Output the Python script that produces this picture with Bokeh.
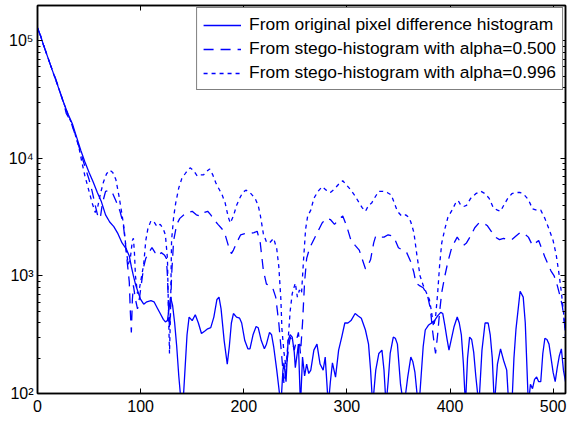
from bokeh.plotting import figure
from bokeh.models import Range1d, LogAxis, LinearAxis, FixedTicker, Legend, LegendItem
from bokeh.embed import file_html
from bokeh.resources import INLINE

# ---- data ----
orig_x = [0, 3, 6, 10, 14, 18, 22, 26, 30, 34, 38, 42, 46, 50, 54, 58, 62, 66, 70, 74, 78, 82, 86, 89, 91, 93, 95, 98,
          100, 103, 106, 110, 113, 116, 119, 122, 124, 126, 129, 131, 133, 135, 137, 139, 141, 143, 145, 147, 150, 153,
          156, 159, 162, 165, 168, 171, 174, 176, 178, 181, 184, 186, 188, 190, 193, 196, 198, 201, 204, 206, 209, 212,
          214, 217, 220, 222, 225, 227, 229, 232, 234, 236, 238, 239, 241, 243, 245, 247, 249, 250, 252, 253, 255, 257,
          259, 261, 263, 265, 268, 271, 274, 277, 279, 282, 284, 286, 289, 292, 295, 298, 301, 304, 308, 311, 314, 318,
          321, 323, 325, 328, 331, 334, 336, 338, 340, 342, 345, 347, 349, 352, 355, 357, 359, 362, 364, 366, 368, 370,
          372, 374, 376, 379, 382, 385, 388, 391, 393, 395, 397, 399, 401, 404, 407, 409, 411, 413, 415, 417, 419, 421,
          423, 425, 428, 431, 434, 437, 439, 441, 443, 446, 449, 452, 455, 457, 460, 462, 464, 468, 471, 473, 476, 478,
          480, 482, 484, 486, 488, 490, 492, 494, 496, 498, 500, 502, 504, 506, 508, 510, 512]
orig_y = [129000, 110000, 91200, 72400, 57500, 45700, 36300, 28800, 23400, 19500, 15100, 11700, 9330, 7590, 6310, 5130,
          4270, 3310, 2880, 2630, 2290, 1910, 1700, 1480, 1200, 1000, 851, 708,
          631, 575, 603, 617, 603, 537, 479, 427, 407, 417, 661, 562, 398, 251, 141, 89, 79, 158, 316, 447, 417, 468,
          398, 324, 339, 355, 363, 447, 631, 661, 525, 282, 178, 251, 398, 479, 447, 437, 398, 282, 240, 240, 316, 372,
          363, 282, 240, 263, 331, 316, 251, 158, 112, 79, 158, 182, 126, 282, 316, 302, 224, 166, 224, 263, 79, 204,
          141, 178, 148, 158, 234, 263, 178, 158, 204, 79, 126, 182, 138, 234, 302, 398, 398, 417, 479, 457, 437, 347,
          263, 158, 79, 158, 219, 234, 158, 79, 126, 219, 302, 295, 263, 120, 79, 100, 138, 204, 186, 151, 100, 79,
          141, 251, 347, 380, 398, 417, 457, 490, 479, 380, 295, 234, 282, 372, 447, 398, 316, 178, 79, 200, 302, 288,
          224, 141, 79, 234, 398, 398, 316, 200, 79, 178, 240, 191, 158, 79, 79, 200, 355, 741, 661, 398, 79, 120,
          110, 132, 138, 126, 126, 219, 295, 288, 263, 200, 151, 126, 166, 209, 240, 158, 126]

a500_x = [0, 3, 6, 10, 14, 18, 22, 26, 28, 30, 32, 34, 38, 42, 46, 50, 53, 56, 59, 61, 63, 66, 70, 73, 76, 80, 83, 85,
          87, 89, 90, 91, 92, 93, 95, 97, 99, 101, 103, 105, 108, 111, 114, 117, 120, 123, 125, 126, 127, 128, 129,
          130, 132, 135, 138, 142, 146, 150, 154, 158, 162, 165, 168, 171, 175, 179, 182, 185, 188, 190, 193, 197, 201,
          206, 210, 213, 216, 219, 222, 225, 228, 231, 234, 236, 238, 239, 241, 243, 245, 247, 249, 251, 253, 255, 257,
          259, 261, 264, 268, 272, 276, 280, 284, 288, 292, 296, 300, 304, 308, 312, 315, 318, 320, 323, 326, 328, 332,
          336, 340, 344, 347, 350, 354, 358, 362, 365, 367, 370, 374, 378, 381, 383, 385, 386, 388, 390, 392, 395, 398,
          401, 404, 407, 410, 413, 416, 420, 424, 428, 432, 436, 440, 444, 448, 452, 456, 460, 464, 468, 472, 476, 480,
          483, 486, 489, 492, 495, 498, 501, 504, 507, 509, 511, 512]
a500_y = [129000, 110000, 91200, 72400, 57500, 46800, 36300, 28200, 24000, 22400, 20900, 18600, 14500, 11200, 8510,
          6610, 5250, 3980, 3090, 3160, 4170, 5250, 5370, 5010, 4370, 3550, 2820, 2000,
          1320, 891, 501, 331, 631, 832, 631, 525, 661, 891, 1200, 1410, 1580, 1740, 1580, 1480, 1580, 1510, 1410, 1000,
          562, 355, 501, 1000, 2000, 2750, 3090, 3310, 3470, 3550, 3310, 3240, 3470, 3550, 3310, 3020, 2750, 2510, 2240,
          1820, 1550, 1660, 1910, 2240, 2290, 2290, 2340, 2400, 1910, 1120, 851, 832, 794, 661, 398, 251, 158, 120, 158,
          224, 302, 282, 234, 282, 331, 219, 398, 891, 1410, 1740, 2040, 2400, 2820, 3090, 3020, 2750, 3020, 3240,
          2630, 2000, 1820, 1660, 1380, 1150, 1200, 1380, 1910, 2190, 2140, 2140, 2240, 2190, 2000, 1740, 1660, 1580,
          1320, 1070, 871, 832, 794, 692, 525, 347, 251, 219, 316, 501, 724, 1000, 1320, 1660, 1910, 2140, 1950, 1820,
          1910, 2190, 2570, 2820, 2820, 2690, 2400, 2140, 2040, 2090, 2040, 2040, 2190, 2340, 2290, 2140, 1820, 1910,
          2000, 1700, 1450, 1260, 1100, 1000, 832, 661, 550, 398, 302]

a996_x = [0, 3, 6, 10, 14, 18, 22, 26, 30, 33, 36, 40, 43, 46, 50, 53, 56, 58, 61, 64, 67, 70, 73, 76, 79, 82, 84, 86,
          88, 90, 92, 93, 94, 95, 97, 99, 101, 103, 105, 107, 110, 113, 116, 119, 122, 124, 126, 127, 128, 129, 130,
          132, 134, 137, 140, 144, 148, 151, 155, 158, 161, 164, 167, 170, 173, 176, 179, 182, 185, 187, 190, 193, 196,
          199, 202, 206, 211, 214, 216, 219, 222, 225, 229, 232, 234, 236, 237, 239, 241, 243, 245, 247, 250, 252, 254,
          256, 258, 260, 262, 265, 268, 272, 276, 280, 284, 288, 292, 296, 300, 304, 308, 312, 315, 318, 321, 324, 328,
          331, 335, 339, 343, 346, 349, 353, 357, 360, 362, 365, 368, 371, 374, 377, 380, 382, 384, 386, 388, 390, 392,
          395, 398, 402, 406, 408, 410, 413, 416, 420, 425, 430, 434, 438, 442, 446, 449, 452, 456, 460, 464, 468, 472,
          476, 480, 484, 488, 492, 496, 500, 503, 506, 508, 510, 512]
a996_y = [129000, 110000, 91200, 72400, 57500, 45700, 36300, 28800, 22900, 20000, 16600, 12600, 9330, 7080, 5250, 4170,
          3470, 3720, 5010, 6310, 7410, 7940, 7590, 6610, 4790, 3310, 2510, 1660,
          1260, 1410, 2000, 2090, 1580, 1000, 708, 794, 1000, 1260, 2000, 2510, 2950, 2880, 2630, 2750, 2510, 2240,
          1410, 501, 219, 501, 2000, 3160, 4170, 5620, 6760, 7590, 8320, 7940, 7080, 7240, 7240, 7760, 8130, 7240,
          6170, 5500, 4900, 4170, 3160, 2820, 3240, 3980, 4570, 5130, 5370, 5130, 4570, 3980, 3310, 2290, 1950, 1910,
          2090, 1700, 1200, 631, 355, 224, 166, 282, 501, 708, 871, 661, 759, 708, 1380, 2510, 3240, 3630, 4570, 5250,
          5750, 5370, 5130, 5500, 6030, 6460, 5890, 5370, 4790, 4170, 3800, 3550, 3980, 4170, 4790, 5250, 5250, 5130,
          4900, 4170, 3550, 3240, 3310, 3160, 2880, 2340, 1480, 1000, 832, 724, 631, 501, 372, 447, 708, 1260, 1910,
          2510, 3160, 3630, 4270, 4370, 4070, 3890, 3980, 4570, 5010, 5250, 5010, 4570, 3800, 3630, 3550, 3980, 4570,
          5010, 5130, 5130, 4900, 4470, 3720, 3630, 3630, 3090, 2510, 2000, 1510, 1000, 724, 501, 316]

x_ticks = [0, 100, 200, 300, 400, 500]
y_ticks = [100, 1000, 10000, 100000]
y_tick_labels = {100: "10²", 1000: "10³", 10000: "10⁴", 100000: "10⁵"}
legend_labels = ["From original pixel difference histogram",
                 "From stego-histogram with alpha=0.500",
                 "From stego-histogram with alpha=0.996"]

# ---- figure ----
FONT = "Liberation Sans"
p = figure(width=567, height=421, y_axis_type="log",
           x_range=Range1d(0, 512), y_range=Range1d(100, 200000),
           output_backend="svg", toolbar_location=None,
           min_border_left=37, min_border_right=2, min_border_top=5, min_border_bottom=28)
p.xgrid.visible = False
p.ygrid.visible = False
p.outline_line_color = "black"
p.outline_line_width = 1.5
p.background_fill_color = "white"
p.border_fill_color = "white"

minor_y = [m * 10 ** e for e in range(2, 6) for m in range(2, 10) if m * 10 ** e <= 200000]


def style(ax):
    ax.axis_line_color = "black"
    ax.axis_line_width = 1.5
    ax.major_tick_in = 5
    ax.major_tick_out = 0
    ax.minor_tick_in = 3
    ax.minor_tick_out = 0
    ax.major_tick_line_color = "black"
    ax.minor_tick_line_color = "black"
    ax.major_label_text_font = FONT
    ax.major_label_text_color = "black"
    ax.major_label_text_font_size = "16px"


yl = p.yaxis[0]
yl.ticker = FixedTicker(ticks=y_ticks, minor_ticks=minor_y)
yl.major_label_overrides = y_tick_labels
style(yl)
yl.major_label_standoff = 4

xb = p.xaxis[0]
xb.ticker = FixedTicker(ticks=x_ticks, minor_ticks=[])
style(xb)
xb.major_label_standoff = 6

# box ticks on the right and top (no labels)
yr = LogAxis(ticker=FixedTicker(ticks=y_ticks, minor_ticks=minor_y),
             major_label_overrides={t: "" for t in y_ticks})
style(yr)
yr.major_label_text_font_size = "1px"
yr.major_label_standoff = 0
p.add_layout(yr, "right")

xt = LinearAxis(ticker=FixedTicker(ticks=x_ticks, minor_ticks=[]),
                major_label_overrides={t: "" for t in x_ticks})
style(xt)
xt.major_label_text_font_size = "1px"
xt.major_label_standoff = 0
p.add_layout(xt, "above")

BLUE = "#0000ff"
r1 = p.line(orig_x, orig_y, line_color=BLUE, line_width=1.3)
r2 = p.line(a500_x, a500_y, line_color=BLUE, line_width=1.3, line_dash="10 7")
r3 = p.line(a996_x, a996_y, line_color=BLUE, line_width=1.3, line_dash="4 4")

legend = Legend(items=[LegendItem(label=legend_labels[0], renderers=[r1]),
                       LegendItem(label=legend_labels[1], renderers=[r2]),
                       LegendItem(label=legend_labels[2], renderers=[r3])],
                location="top_right")
legend.margin = 2
legend.padding = 6
legend.spacing = 3
legend.label_height = 20
legend.glyph_height = 20
legend.glyph_width = 38
legend.label_standoff = 8
legend.label_text_font = FONT
legend.label_text_font_size = "17.4px"
legend.label_text_color = "black"
legend.border_line_color = "black"
legend.border_line_width = 1.5
legend.background_fill_color = "white"
legend.background_fill_alpha = 1.0
p.add_layout(legend)

open("out.html", "w").write(file_html(p, INLINE))
